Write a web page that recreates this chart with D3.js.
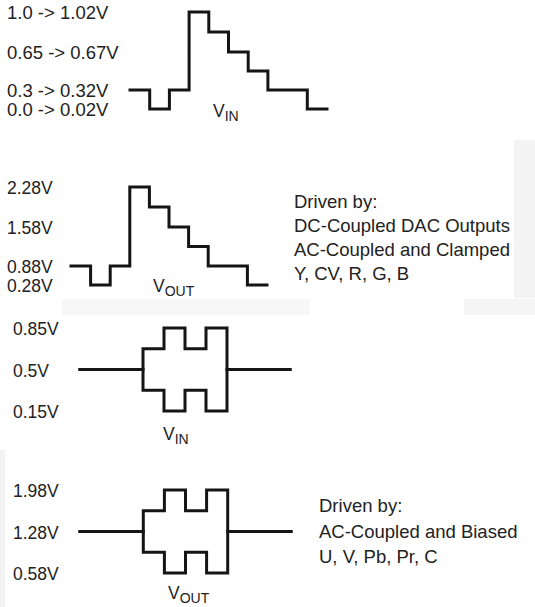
<!DOCTYPE html>
<html>
<head>
<meta charset="utf-8">
<script src="https://cdnjs.cloudflare.com/ajax/libs/d3/7.8.5/d3.min.js"></script>
<style>
  body { margin: 0; background: #fff; }
  text { font-family: "Liberation Sans", Arial, Helvetica, sans-serif; fill: #222; }
</style>
</head>
<body>
<div class="waveContainer"></div>
<script>
// luma staircase (Y, CV, R, G, B)
var stepTimes = [0, 1, 2, 3, 4, 5, 6, 7, 9, 10];
var lumaInLevels = [0.3, 0.0, 0.3, 1.0, 0.825, 0.65, 0.475, 0.3, 0.0];
var lumaOutLevels = [0.88, 0.28, 0.88, 2.28, 1.93, 1.58, 1.23, 0.88, 0.28];
var lumaInTicks = [1.0, 0.65, 0.3, 0.0];
var lumaInTickLabels = ["1.0 -> 1.02V", "0.65 -> 0.67V", "0.3 -> 0.32V", "0.0 -> 0.02V"];
var lumaOutTicks = [2.28, 1.58, 0.88, 0.28];
var lumaOutTickLabels = ["2.28V", "1.58V", "0.88V", "0.28V"];

// chroma burst (U, V, Pb, Pr, C)
var burstTimes = [0, 3, 4, 5, 6, 7, 10];
var chromaInHigh = [0.5, 0.675, 0.85, 0.675, 0.85, 0.5];
var chromaInLow = [0.5, 0.325, 0.15, 0.325, 0.15, 0.5];
var chromaOutHigh = [1.28, 1.63, 1.98, 1.63, 1.98, 1.28];
var chromaOutLow = [1.28, 0.93, 0.58, 0.93, 0.58, 1.28];
var chromaInTicks = [0.85, 0.5, 0.15];
var chromaInTickLabels = ["0.85V", "0.5V", "0.15V"];
var chromaOutTicks = [1.98, 1.28, 0.58];
var chromaOutTickLabels = ["1.98V", "1.28V", "0.58V"];

var lumaNote = ["Driven by:", "DC-Coupled DAC Outputs", "AC-Coupled and Clamped", "Y, CV, R, G, B"];
var chromaNote = ["Driven by:", "AC-Coupled and Biased", "U, V, Pb, Pr, C"];

var svg = d3.select(".waveContainer")
    .append("svg")
    .attr("width", 535)
    .attr("height", 607);

// faint grey patches from the scanned original
var bg = svg.append("g").attr("fill", "#f3f3f3");
bg.append("rect").attr("x", 514).attr("y", 140).attr("width", 21).attr("height", 158);
bg.append("rect").attr("x", 62).attr("y", 299).attr("width", 248).attr("height", 16).attr("fill", "#f7f7f7");
bg.append("rect").attr("x", 464).attr("y", 299).attr("width", 71).attr("height", 16).attr("fill", "#f5f5f5");
bg.append("rect").attr("x", 0).attr("y", 450).attr("width", 5).attr("height", 157);

function toPoints(times, levels) {
    var pts = levels.map(function (v, i) { return [times[i], v]; });
    pts.push([times[times.length - 1], levels[levels.length - 1]]);
    return pts;
}

function drawWave(x, y, seriesList) {
    var line = d3.line()
        .x(function (d) { return x(d[0]); })
        .y(function (d) { return y(d[1]); })
        .curve(d3.curveStepAfter);
    seriesList.forEach(function (s) {
        svg.append("path")
            .attr("d", line(toPoints(s.times, s.levels)))
            .attr("fill", "none")
            .attr("stroke", "#151515")
            .attr("stroke-width", 3)
            .attr("stroke-linejoin", "miter")
            .attr("stroke-linecap", "square");
    });
}

function drawLabels(y, left, ticks, labels, size) {
    var axis = d3.axisRight(y)
        .tickValues(ticks)
        .tickFormat(function (d, i) { return labels[i]; })
        .tickSize(0)
        .tickPadding(0);
    var g = svg.append("g")
        .attr("transform", "translate(" + left + ",1)")
        .call(axis);
    g.select(".domain").remove();
    g.selectAll("text")
        .attr("fill", "#222")
        .style("font-size", (size || 17.5) + "px")
        .style("font-family", "'Liberation Sans', Arial, sans-serif");
}

function drawName(x, baseline, sub) {
    var t = svg.append("text")
        .attr("x", x)
        .attr("y", baseline)
        .style("font-size", "17.5px");
    t.append("tspan").text("V");
    t.append("tspan").attr("dy", 4).style("font-size", "14px").text(sub);
}

function drawNote(x, firstBaseline, gap, lines) {
    svg.append("g").selectAll("text")
        .data(lines)
        .enter()
        .append("text")
        .attr("x", x)
        .attr("y", function (d, i) { return firstBaseline + i * gap; })
        .style("font-size", "18.5px")
        .text(function (d) { return d; });
}

// 1: luma VIN
var x1 = d3.scaleLinear().domain([0, 10]).range([130, 327]);
var y1 = d3.scaleLinear().domain([0, 0.3, 0.65, 1.0]).range([109, 90, 52, 12]);
drawWave(x1, y1, [{ times: stepTimes, levels: lumaInLevels }]);
drawLabels(y1, 7, lumaInTicks, lumaInTickLabels, 18.5);
drawName(213, 117, "IN");

// 2: luma VOUT
var x2 = d3.scaleLinear().domain([0, 10]).range([71, 267]);
var y2 = d3.scaleLinear().domain([0.28, 0.88, 1.58, 2.28]).range([285, 266, 227, 187]);
drawWave(x2, y2, [{ times: stepTimes, levels: lumaOutLevels }]);
drawLabels(y2, 7, lumaOutTicks, lumaOutTickLabels);
drawName(153, 292, "OUT");
drawNote(294, 208, 24, lumaNote);

// 3: chroma VIN
var x3 = d3.scaleLinear().domain([0, 10]).range([80, 290]);
var y3 = d3.scaleLinear().domain([0.15, 0.85]).range([411, 328]);
drawWave(x3, y3, [
    { times: burstTimes, levels: chromaInHigh },
    { times: burstTimes, levels: chromaInLow }
]);
drawLabels(y3, 13, chromaInTicks, chromaInTickLabels);
drawName(163, 440, "IN");

// 4: chroma VOUT
var x4 = d3.scaleLinear().domain([0, 10]).range([80, 291]);
var y4 = d3.scaleLinear().domain([0.58, 1.98]).range([573, 490]);
drawWave(x4, y4, [
    { times: burstTimes, levels: chromaOutHigh },
    { times: burstTimes, levels: chromaOutLow }
]);
drawLabels(y4, 13, chromaOutTicks, chromaOutTickLabels);
drawName(168, 599, "OUT");
drawNote(319, 512, 25.5, chromaNote);
</script>
</body>
</html>
